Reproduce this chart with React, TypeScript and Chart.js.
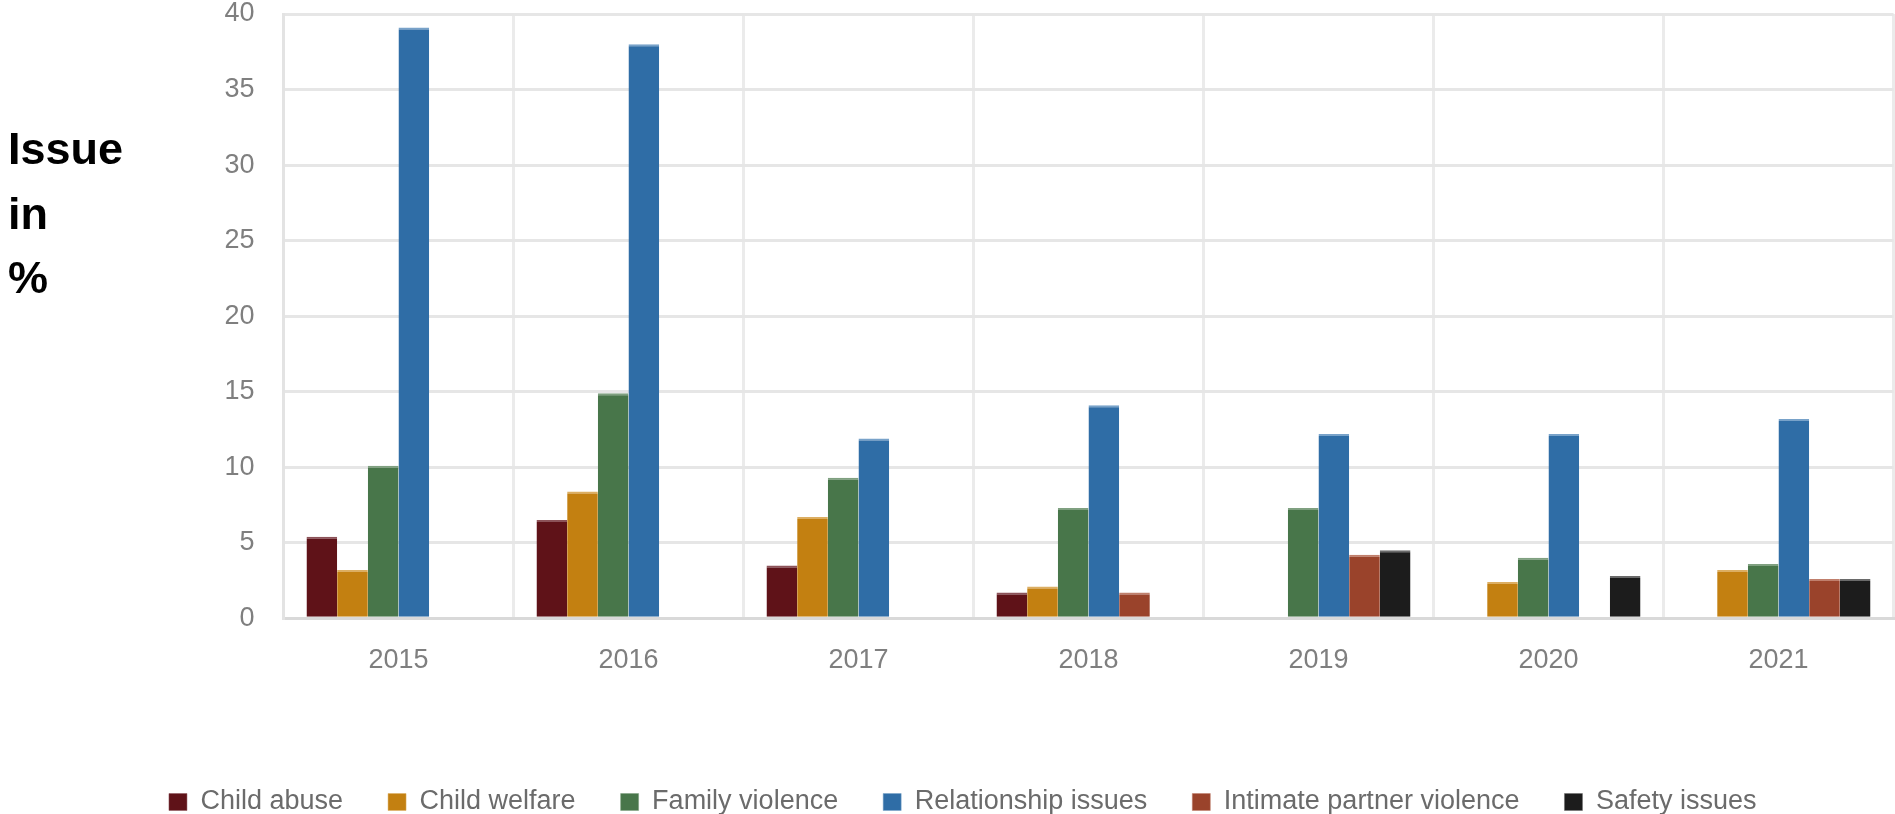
import React, { useEffect, useRef } from "react";
import { Chart, registerables } from "chart.js";

Chart.register(...registerables);

// Years on the category axis
const years = ["2015", "2016", "2017", "2018", "2019", "2020", "2021"];

// Share of each issue per year, in percent (null = not reported that year)
const childAbuse = [5.4, 6.5, 3.5, 1.7, null, null, null];
const childWelfare = [3.2, 8.4, 6.7, 2.1, null, 2.4, 3.2];
const familyViolence = [10.1, 14.9, 9.3, 7.3, 7.3, 4.0, 3.6];
const relationshipIssues = [39.1, 38.0, 11.9, 14.1, 12.2, 12.2, 13.2];
const intimatePartnerViolence = [null, null, null, 1.7, 4.2, null, 2.6];
const safetyIssues = [null, null, null, null, 4.5, 2.8, 2.6];

const seriesNames = [
  "Child abuse",
  "Child welfare",
  "Family violence",
  "Relationship issues",
  "Intimate partner violence",
  "Safety issues",
];
const seriesValues = [
  childAbuse,
  childWelfare,
  familyViolence,
  relationshipIssues,
  intimatePartnerViolence,
  safetyIssues,
];
const seriesColors = ["#5f1218", "#c38011", "#48764a", "#2f6da6", "#9a432b", "#1c1c1c"];
const seriesEdges = ["#8c5258", "#dcae62", "#7fa080", "#78a2c9", "#c07f6c", "#6a6a6a"];

// Value axis ticks
const yMin = 0;
const yMax = 40;
const yStep = 5;

const titleLines = ["Issue", "in", "%"];

const FONT = "'Liberation Sans', Arial, 'DejaVu Sans', sans-serif";

export default function App() {
  const canvasRef = useRef<HTMLCanvasElement | null>(null);

  useEffect(() => {
    const canvas = canvasRef.current;
    if (!canvas) return;

    const chart = new Chart(canvas, {
      type: "bar",
      data: {
        labels: years,
        datasets: seriesNames.map((name, i) => ({
          label: name,
          data: seriesValues[i],
          backgroundColor: seriesColors[i],
          borderColor: seriesEdges[i],
          borderWidth: { top: 2, left: 0, right: 0, bottom: 0 },
          categoryPercentage: 0.8,
          barPercentage: 1.0,
        })),
      },
      options: {
        responsive: true,
        maintainAspectRatio: false,
        animation: false,
        layout: {
          padding: { left: 32, right: 1.5, top: 14, bottom: -11.5 },
        },
        plugins: {
          tooltip: { enabled: false },
          legend: {
            position: "bottom",
            labels: {
              boxWidth: 18,
              boxHeight: 17,
              padding: 45,
              color: "#6b6b6b",
              font: { family: FONT, size: 27 },
            },
          },
        },
        scales: {
          x: {
            grid: {
              color: "#ebebeb",
              lineWidth: 3,
              drawTicks: false,
              offset: true,
            },
            border: { color: "#d9d9d9", width: 3 },
            ticks: {
              color: "#7f7f7f",
              padding: 26,
              font: { family: FONT, size: 27 },
            },
            afterFit: (scale: any) => {
              scale.height = 125.2;
            },
          },
          y: {
            min: yMin,
            max: yMax,
            grid: {
              color: "#e6e6e6",
              lineWidth: 3,
              drawTicks: true,
              tickLength: 29,
              tickColor: "rgba(0,0,0,0)",
            },
            border: { color: "#e3e3e3", width: 3 },
            ticks: {
              stepSize: yStep,
              color: "#7f7f7f",
              padding: 0,
              font: { family: FONT, size: 27, lineHeight: 1.0 },
            },
            afterFit: (scale: any) => {
              scale.width = 251.5;
            },
          },
        },
      },
    });

    return () => {
      chart.destroy();
    };
  }, []);

  return (
    <div
      style={{
        position: "fixed",
        left: 0,
        top: 0,
        width: 1895,
        height: 814,
        background: "#ffffff",
      }}
    >
      <canvas ref={canvasRef} />
      <div
        style={{
          position: "absolute",
          left: 8,
          top: 117,
          fontFamily: FONT,
          fontWeight: 700,
          fontSize: 45,
          lineHeight: "64.5px",
          color: "#000000",
        }}
      >
        {titleLines.map((line) => (
          <div key={line}>{line}</div>
        ))}
      </div>
    </div>
  );
}
